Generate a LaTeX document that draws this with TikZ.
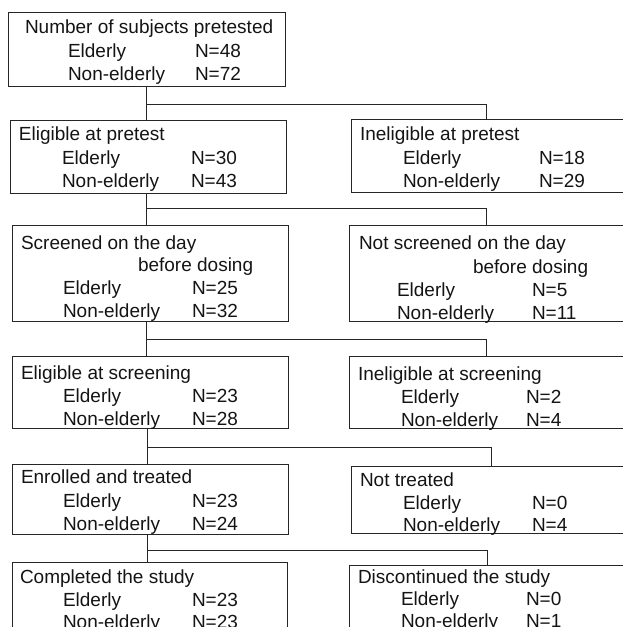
\documentclass[tikz,border=0pt]{standalone}
\usepackage{fontspec}
\setmainfont{Liberation Sans}
\begin{document}
\begin{tikzpicture}[x=1pt,y=-1pt,
  box/.style={draw=black!85, line width=0.9pt, anchor=north west, inner sep=0pt, outer sep=0pt},
  txt/.style={anchor=base west, inner sep=0pt, outer sep=0pt, text=black!92, font=\fontsize{19}{23}\selectfont},
  conn/.style={draw=black!85, line width=0.9pt}]
\useasboundingbox (0,0) rectangle (623,627);
\clip (0,0) rectangle (623,627);
% boxes
\node[box, minimum width=277pt, minimum height=74pt] (b1) at (8,12) {};
\node[box, minimum width=276pt, minimum height=73pt] (b2) at (10,120) {};
\node[box, minimum width=276pt, minimum height=96pt] (b3) at (12,225) {};
\node[box, minimum width=276pt, minimum height=72pt] (b4) at (12,356) {};
\node[box, minimum width=276pt, minimum height=70pt] (b5) at (12,464) {};
\node[box, minimum width=275pt, minimum height=80pt] (b6) at (12,562) {};
\node[box, minimum width=275pt, minimum height=73pt] (r1) at (351,119) {};
\node[box, minimum width=277pt, minimum height=96pt] (r2) at (349,225) {};
\node[box, minimum width=277pt, minimum height=72pt] (r3) at (349,356) {};
\node[box, minimum width=275pt, minimum height=67pt] (r4) at (351,466) {};
\node[box, minimum width=277pt, minimum height=80pt] (r5) at (349,565) {};
% junctions
\coordinate (s1) at (146,104); \coordinate (k1) at (486,104);
\coordinate (s2) at (146,208); \coordinate (k2) at (486,208);
\coordinate (s3) at (146,339); \coordinate (k3) at (486,339);
\coordinate (s4) at (147,447); \coordinate (k4) at (491,447);
\coordinate (s5) at (147,550); \coordinate (k5) at (487,550);
% connectors
\draw[conn] (b1.south -| s1) -- (b2.north -| s1);
\draw[conn] (s1) -- (k1) -- (r1.north -| k1);
\draw[conn] (b2.south -| s2) -- (b3.north -| s2);
\draw[conn] (s2) -- (k2) -- (r2.north -| k2);
\draw[conn] (b3.south -| s3) -- (b4.north -| s3);
\draw[conn] (s3) -- (k3) -- (r3.north -| k3);
\draw[conn] (b4.south -| s4) -- (b5.north -| s4);
\draw[conn] (s4) -- (k4) -- (r4.north -| k4);
\draw[conn] (b5.south -| s5) -- (b6.north -| s5);
\draw[conn] (s5) -- (k5) -- (r5.north -| k5);
% box 1
\node[txt] (t1a) at (25,33) {Number of subjects pretested};
\node[txt] (t1b) at (68,57) {Elderly};
\node[txt] (t1c) at (195,57) {N=48};
\node[txt] (t1d) at (68,80) {Non-elderly};
\node[txt] (t1e) at (195,80) {N=72};
% box 2
\node[txt] (t2a) at (19,140) {Eligible at pretest};
\node[txt] (t2b) at (62,164) {Elderly};
\node[txt] (t2c) at (191,164) {N=30};
\node[txt] (t2d) at (62,187) {Non-elderly};
\node[txt] (t2e) at (191,187) {N=43};
% box 3
\node[txt] (t3a) at (21,249) {Screened on the day};
\node[txt] (t3f) at (138,271) {before dosing};
\node[txt] (t3b) at (63,294) {Elderly};
\node[txt] (t3c) at (192,294) {N=25};
\node[txt] (t3d) at (63,317) {Non-elderly};
\node[txt] (t3e) at (192,317) {N=32};
% box 4
\node[txt] (t4a) at (21,379) {Eligible at screening};
\node[txt] (t4b) at (63,402) {Elderly};
\node[txt] (t4c) at (192,402) {N=23};
\node[txt] (t4d) at (63,425) {Non-elderly};
\node[txt] (t4e) at (192,425) {N=28};
% box 5
\node[txt] (t5a) at (21,483) {Enrolled and treated};
\node[txt] (t5b) at (63,507) {Elderly};
\node[txt] (t5c) at (192,507) {N=23};
\node[txt] (t5d) at (63,530) {Non-elderly};
\node[txt] (t5e) at (192,530) {N=24};
% box 6
\node[txt] (t6a) at (20,583) {Completed the study};
\node[txt] (t6b) at (63,606) {Elderly};
\node[txt] (t6c) at (192,606) {N=23};
\node[txt] (t6d) at (63,628) {Non-elderly};
\node[txt] (t6e) at (192,628) {N=23};
% right 1
\node[txt] (u1a) at (360,140) {Ineligible at pretest};
\node[txt] (u1b) at (403,164) {Elderly};
\node[txt] (u1c) at (539,164) {N=18};
\node[txt] (u1d) at (403,187) {Non-elderly};
\node[txt] (u1e) at (539,187) {N=29};
% right 2
\node[txt] (u2a) at (359,249) {Not screened on the day};
\node[txt] (u2f) at (473,273) {before dosing};
\node[txt] (u2b) at (397,296) {Elderly};
\node[txt] (u2c) at (532,296) {N=5};
\node[txt] (u2d) at (397,319) {Non-elderly};
\node[txt] (u2e) at (532,319) {N=11};
% right 3
\node[txt] (u3a) at (358,380) {Ineligible at screening};
\node[txt] (u3b) at (401,403) {Elderly};
\node[txt] (u3c) at (526,403) {N=2};
\node[txt] (u3d) at (401,426) {Non-elderly};
\node[txt] (u3e) at (526,426) {N=4};
% right 4
\node[txt] (u4a) at (360,486) {Not treated};
\node[txt] (u4b) at (403,509) {Elderly};
\node[txt] (u4c) at (532,509) {N=0};
\node[txt] (u4d) at (403,531) {Non-elderly};
\node[txt] (u4e) at (532,531) {N=4};
% right 5
\node[txt] (u5a) at (358,583) {Discontinued the study};
\node[txt] (u5b) at (401,605) {Elderly};
\node[txt] (u5c) at (526,605) {N=0};
\node[txt] (u5d) at (401,627) {Non-elderly};
\node[txt] (u5e) at (526,627) {N=1};
\end{tikzpicture}
\end{document}
